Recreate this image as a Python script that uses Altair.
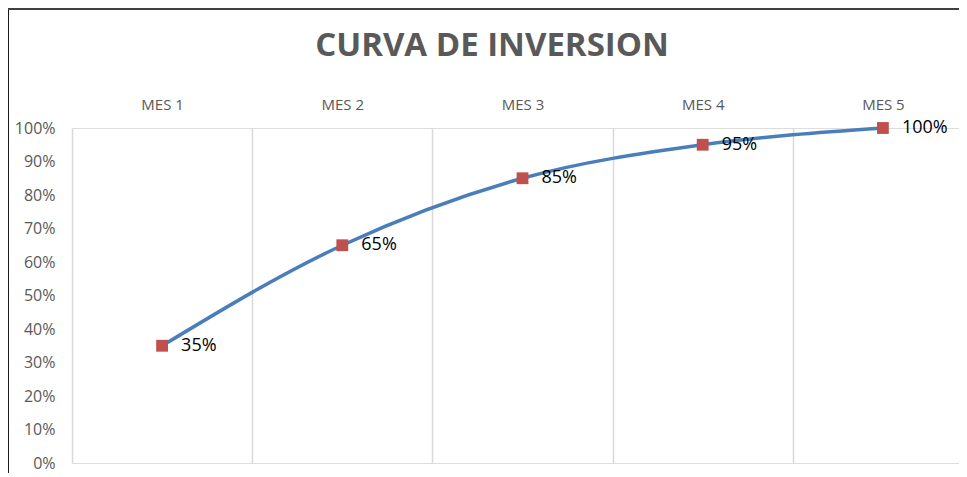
import altair as alt
import pandas as pd

meses = ["MES 1", "MES 2", "MES 3", "MES 4", "MES 5"]
valores = [0.35, 0.65, 0.85, 0.95, 1.00]
y_ticks = [0, 0.1, 0.2, 0.3, 0.4, 0.5, 0.6, 0.7, 0.8, 0.9, 1.0]
titulo = "CURVA DE INVERSION"

df = pd.DataFrame({"mes": meses, "valor": valores})

W, H = 887, 335
RANGE_W = 901
FONT = "Open Sans"
GRAY = "#595959"

x_enc = alt.X(
    "mes:N",
    sort=meses,
    title=None,
    scale=alt.Scale(type="band", paddingInner=0, paddingOuter=0, range=[0, RANGE_W]),
    axis=alt.Axis(
        orient="top", grid=True, tickBand="extent", ticks=False, tickSize=0,
        domain=False, labelAngle=0, labelFont=FONT, labelFontSize=15,
        labelColor=GRAY, labelPadding=19, labelBaseline="alphabetic",
        gridColor="#D9D9D9", gridWidth=1.5,
    ),
)
y_enc = alt.Y(
    "valor:Q",
    title=None,
    scale=alt.Scale(domain=[0, 1], nice=False, zero=True),
    axis=alt.Axis(
        values=y_ticks, format=".0%", grid=False, ticks=False, tickSize=0,
        domain=False, labelFont=FONT, labelFontSize=16, labelColor=GRAY,
        labelPadding=17, labelBaseline="middle",
    ),
)

base = alt.Chart(df)

line = base.mark_line(color="#4A7EBB", strokeWidth=3.5, interpolate="monotone").encode(x=x_enc, y=y_enc)
pts = base.mark_point(shape="square", filled=True, opacity=1, size=140, color="#C0504D").encode(x=x_enc, y=y_enc)
labels = base.mark_text(align="left", baseline="middle", dx=19, font=FONT, fontSize=18, color="#000000").encode(
    x=x_enc, y=y_enc, text=alt.Text("valor:Q", format=".0%")
)

title_df = pd.DataFrame({"t": [titulo]})
title = alt.Chart(title_df).mark_text(
    align="center", baseline="middle", font=FONT, fontSize=33, fontWeight="bold", color=GRAY
).encode(x=alt.value(420), y=alt.value(-82), text="t:N")

border_df = pd.DataFrame({"b": [1]})
left_border = alt.Chart(border_df).mark_rule(color="#1a1a1a", strokeWidth=2).encode(
    x=alt.value(-64), y=alt.value(-120), y2=alt.value(H + 20)
)
top_border = alt.Chart(border_df).mark_rule(color="#404040", strokeWidth=2).encode(
    x=alt.value(-64), x2=alt.value(W + 10), y=alt.value(-119)
)

chart = alt.layer(line, pts, labels, title, left_border, top_border).properties(
    width=W, height=H,
    autosize=alt.AutoSizeParams(type="none"),
    padding={"left": 64, "top": 120, "right": 0, "bottom": 10},
).configure_view(stroke=None).configure(background="white")

chart.save("out.html", embed_options={"renderer": "svg", "actions": False})
